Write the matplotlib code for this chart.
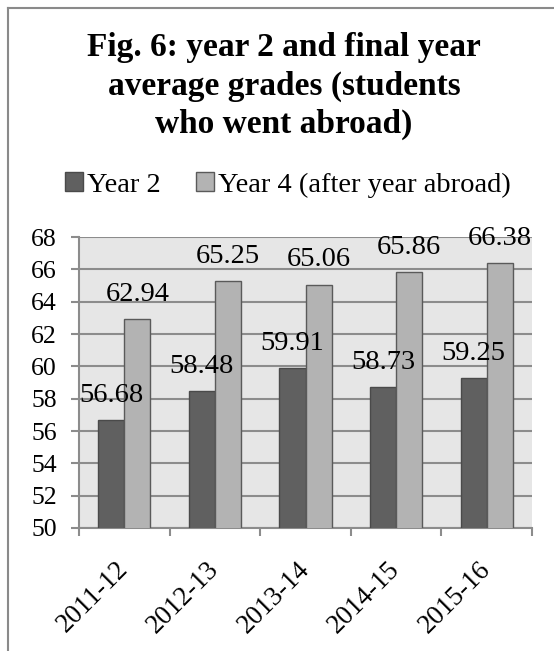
import matplotlib
matplotlib.use("Agg")
import matplotlib.pyplot as plt
from matplotlib.lines import Line2D
import numpy as np

# chart data
years = ["2011-12", "2012-13", "2013-14", "2014-15", "2015-16"]
year2 = [56.68, 58.48, 59.91, 58.73, 59.25]
year4 = [62.94, 65.25, 65.06, 65.86, 66.38]
series_names = ["Year 2", "Year 4 (after year abroad)"]
yticks = [50, 52, 54, 56, 58, 60, 62, 64, 66, 68]

plt.rcParams["font.family"] = ["Liberation Serif", "DejaVu Serif"]

fig = plt.figure(figsize=(5.54, 6.51), dpi=100)
ax = fig.add_axes([79 / 554, 1 - 528 / 651, (532 - 79) / 554, (528 - 237) / 651])
ax.set_facecolor("#e6e6e6")

x = np.arange(len(years))
width = 0.287
bars1 = ax.bar(x - width / 2, year2, width, color="#606060",
               edgecolor="#4a4a4a", linewidth=1, label=series_names[0], zorder=3)
bars2 = ax.bar(x + width / 2, year4, width, color="#b3b3b3",
               edgecolor="#5a5a5a", linewidth=1, label=series_names[1], zorder=3)

for bars, vals in ((bars1, year2), (bars2, year4)):
    for b, v in zip(bars, vals):
        ax.annotate(f"{v:.2f}", (b.get_x() + b.get_width() / 2, v),
                    xytext=(0, 13), textcoords="offset points",
                    ha="center", va="baseline", fontsize=20.5,
                    annotation_clip=False, zorder=4)

ax.set_ylim(50, 68)
ax.set_xlim(-0.5, len(years) - 0.5)
ax.set_yticks(yticks)
ax.grid(axis="y", color="#8c8c8c", linewidth=1.5, zorder=0)
ax.set_axisbelow(True)

# category ticks sit on the boundaries, labels at centres
ax.set_xticks(np.arange(len(years) + 1) - 0.5)
ax.set_xticklabels([])
ax.set_xticks(x, minor=True)
ax.set_xticklabels(years, minor=True, rotation=45, ha="right",
                   va="center", rotation_mode="anchor", fontsize=19.5)
ax.tick_params(axis="x", which="major", length=6, width=1.5, color="#8c8c8c")
ax.tick_params(axis="x", which="minor", length=0, pad=27)
ax.tick_params(axis="y", length=6, width=1.5, color="#8c8c8c",
               labelsize=18.5, pad=10)

for side in ("top", "right"):
    ax.spines[side].set_visible(False)
for side in ("left", "bottom"):
    ax.spines[side].set_color("#8c8c8c")
    ax.spines[side].set_linewidth(1.5)

fig.text(284 / 554, 1 - 86 / 651,
         "Fig. 6: year 2 and final year\naverage grades (students\nwho went abroad)",
         ha="center", va="center", fontsize=24, fontweight="bold",
         linespacing=1.3)

fig.legend(handles=[bars1, bars2], loc="center", ncol=2, frameon=False,
           bbox_to_anchor=(288 / 554, 1 - 185 / 651), fontsize=20.5,
           handlelength=0.62, handleheight=0.62, handletextpad=0.15,
           columnspacing=1.25, borderaxespad=0)

# outer chart border, cropped on the right and bottom
fig.add_artist(Line2D([8 / 554, 8 / 554], [0, 1 - 8 / 651], color="#8a8a8a",
                      linewidth=1.5, transform=fig.transFigure))
fig.add_artist(Line2D([8 / 554, 1], [1 - 8 / 651, 1 - 8 / 651], color="#8a8a8a",
                      linewidth=1.5, transform=fig.transFigure))

fig.savefig("out.png", dpi=100, facecolor="white")
